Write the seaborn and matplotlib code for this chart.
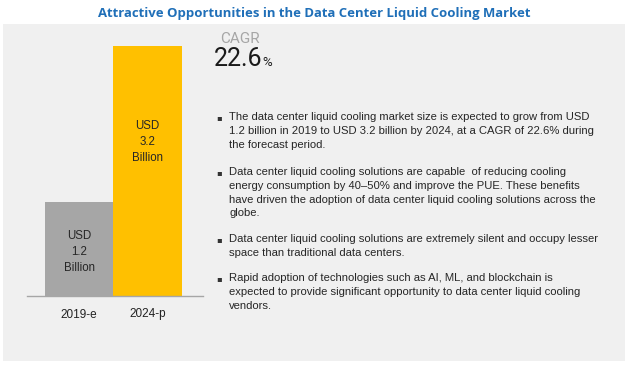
import matplotlib
matplotlib.use("Agg")
import matplotlib.pyplot as plt
import seaborn as sns
import pandas as pd
from matplotlib.patches import Rectangle

# ---- data ----
categories = ["2019-e", "2024-p"]
values = [1.2, 3.2]
bar_colors = ["#a6a6a6", "#ffc000"]
bar_labels = ["USD\n1.2\nBillion", "USD\n3.2\nBillion"]
label_heights = [0.56, 1.97]
title = "Attractive Opportunities in the Data Center Liquid Cooling Market"
cagr_label = "CAGR"
cagr_value = "22.6"
bullets = [
    "The data center liquid cooling market size is expected to grow from USD\n1.2 billion in 2019 to USD 3.2 billion by 2024, at a CAGR of 22.6% during\nthe forecast period.",
    "Data center liquid cooling solutions are capable  of reducing cooling\nenergy consumption by 40\u201350% and improve the PUE. These benefits\nhave driven the adoption of data center liquid cooling solutions across the\nglobe.",
    "Data center liquid cooling solutions are extremely silent and occupy lesser\nspace than traditional data centers.",
    "Rapid adoption of technologies such as AI, ML, and blockchain is\nexpected to provide significant opportunity to data center liquid cooling\nvendors.",
]
bullet_tops = [112, 167, 234, 273]

sns.set_theme(style="white")
plt.rcParams["font.family"] = ["Liberation Sans", "DejaVu Sans"]

W, H = 630, 366
fig = plt.figure(figsize=(W / 100, H / 100), dpi=100)
fig.patch.set_facecolor("white")

def fx(px):
    return px / W

def fy(py):
    return 1 - py / H

# background panel
fig.patches.append(Rectangle((fx(3), fy(361)), fx(622), (361 - 24) / H,
                             transform=fig.transFigure, facecolor="#f0f0f0",
                             edgecolor="none", zorder=-5))

fig.text(fx(314), fy(13), title, ha="center", va="center", fontsize=9.45,
         fontweight="bold", color="#1f6fb8", family=["Open Sans", "DejaVu Sans"])

ax = fig.add_axes([fx(27), fy(296), fx(176), 250 / H])
ax.set_zorder(2)
ax.set_facecolor("none")
df = pd.DataFrame({"cat": categories, "val": values})
sns.barplot(data=df, x="cat", y="val", hue="cat", palette=bar_colors,
            width=1.0, saturation=1, legend=False, ax=ax,
            linewidth=0, edgecolor="none")
ax.set_xlim(-0.76, 1.81)
ax.set_ylim(0, max(values))
ax.set_xlabel("")
ax.set_ylabel("")
ax.set_yticks([])
for s in ["top", "left", "right"]:
    ax.spines[s].set_visible(False)
ax.spines["bottom"].set_color("#a6a6a6")
ax.spines["bottom"].set_linewidth(1)
ax.tick_params(axis="x", length=0, pad=9, labelsize=8.5, labelcolor="#222222")
for i, (lab, h) in enumerate(zip(bar_labels, label_heights)):
    ax.text(i, h, lab, ha="center", va="center", fontsize=8.3,
            color="#262626", linespacing=1.45)

# CAGR
fig.text(fx(220), fy(39), cagr_label, ha="left", va="center", fontsize=11,
         color="#a6a6a6", family=["Liberation Sans Narrow", "Roboto", "DejaVu Sans"])
fig.text(fx(214), fy(59), cagr_value, ha="left", va="center", fontsize=18,
         color="#1a1a1a", family=["Roboto", "DejaVu Sans"])
fig.text(fx(262), fy(62), "%", ha="left", va="center", fontsize=9.5,
         color="#1a1a1a", family=["Roboto", "DejaVu Sans"])

for txt, top in zip(bullets, bullet_tops):
    fig.text(fx(216), fy(top + 1), "\u25aa", ha="left", va="top", fontsize=6,
             color="#333333", family=["DejaVu Sans"])
    fig.text(fx(229), fy(top), txt, ha="left", va="top", fontsize=8.1,
             color="#262626", linespacing=1.47)

fig.savefig("out.png", dpi=100)
